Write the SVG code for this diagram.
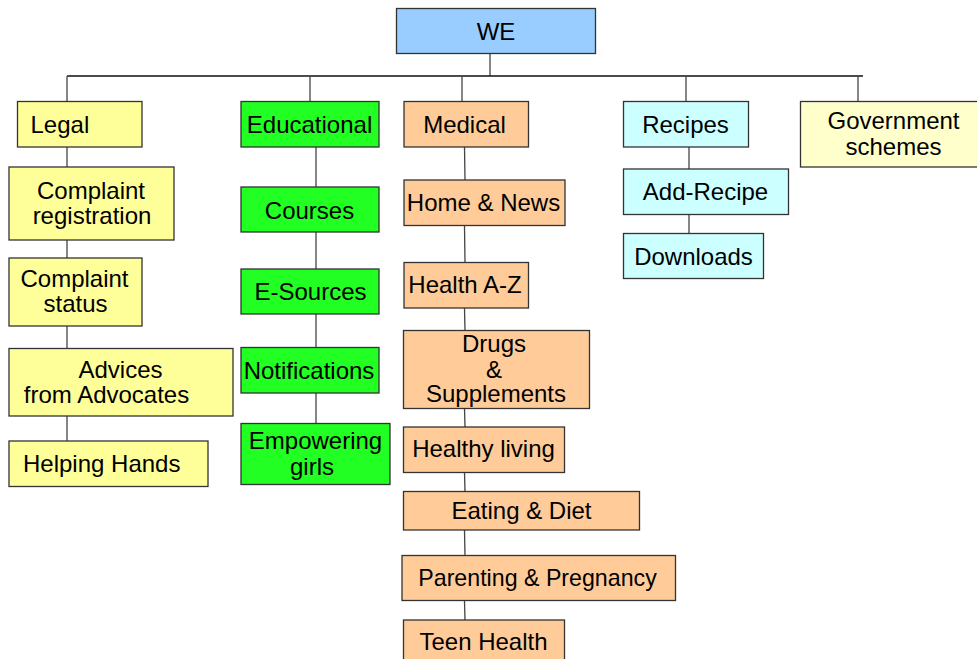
<svg xmlns="http://www.w3.org/2000/svg" width="977" height="659" viewBox="0 0 977 659">
<style>
rect{stroke:#333;stroke-width:1.3}
text{font-family:"Liberation Sans",Arial,sans-serif;font-size:24px;fill:#000;text-anchor:middle}
.l{text-anchor:start}
.c line{stroke:#444;stroke-width:1.3}
.blue{fill:#99CCFF}.yel{fill:#FFFF99}.pale{fill:#FFFFCC}.grn{fill:#22FF22}.org{fill:#FFCC99}.cyan{fill:#CCFFFF}
</style>
<rect width="977" height="659" fill="#fff" style="stroke:none"/>
<g class="c" id="connectors">
<line x1="490" y1="53" x2="490" y2="76"/>
<line x1="67" y1="76" x2="863" y2="76" style="stroke:#111"/>
<line x1="67" y1="76" x2="67" y2="101"/>
<line x1="310" y1="76" x2="310" y2="101"/>
<line x1="462" y1="76" x2="462" y2="101"/>
<line x1="686" y1="76" x2="686" y2="101"/>
<line x1="858" y1="76" x2="858" y2="101"/>
<line x1="67" y1="147" x2="67" y2="167"/>
<line x1="67" y1="240" x2="67" y2="258"/>
<line x1="67" y1="326" x2="67" y2="348"/>
<line x1="67" y1="416" x2="67" y2="441"/>
<line x1="316" y1="147" x2="316" y2="187"/>
<line x1="316" y1="232" x2="316" y2="269"/>
<line x1="316" y1="314" x2="316" y2="347"/>
<line x1="316" y1="393" x2="316" y2="423"/>
<line x1="464.5" y1="147" x2="465" y2="180"/>
<line x1="464.5" y1="226" x2="465" y2="262"/>
<line x1="464.5" y1="308" x2="465" y2="331"/>
<line x1="464.5" y1="408" x2="465" y2="427"/>
<line x1="464.5" y1="472" x2="465" y2="492"/>
<line x1="464.5" y1="530" x2="465" y2="556"/>
<line x1="464.5" y1="601" x2="465" y2="620"/>
<line x1="689" y1="147" x2="689" y2="169"/>
<line x1="689" y1="214" x2="689" y2="233"/>
</g>
<g id="we"><rect class="blue" x="396.5" y="8.5" width="199" height="45"/><text x="496" y="39.5">WE</text></g>
<g id="legal"><rect class="yel" x="17.5" y="101.5" width="124.5" height="45.5"/><text class="l" x="30.5" y="132.5">Legal</text></g>
<g id="educational"><rect class="grn" x="241" y="101.5" width="138" height="45.5"/><text x="309.5" y="132.5">Educational</text></g>
<g id="medical"><rect class="org" x="404" y="101.5" width="124.5" height="45.5"/><text x="464.5" y="132.5">Medical</text></g>
<g id="recipes"><rect class="cyan" x="623.5" y="101.5" width="125" height="45.5"/><text x="685.5" y="132.5">Recipes</text></g>
<g id="gov"><rect class="pale" x="800.5" y="101.5" width="180" height="65.5"/><text x="893.5" y="128.5">Government</text><text x="893.5" y="154.5">schemes</text></g>
<g id="complaint-registration"><rect class="yel" x="9" y="167" width="165" height="73"/><text x="91" y="199">Complaint</text><text x="92" y="224">registration</text></g>
<g id="complaint-status"><rect class="yel" x="9" y="258" width="133" height="68"/><text x="74.5" y="287">Complaint</text><text x="75.5" y="312">status</text></g>
<g id="advices"><rect class="yel" x="9" y="348.5" width="224" height="67.5"/><text x="120.5" y="377.5">Advices</text><text x="106.5" y="403">from Advocates</text></g>
<g id="helping-hands"><rect class="yel" x="9" y="441" width="199" height="45.5"/><text class="l" x="23" y="472">Helping Hands</text></g>
<g id="courses"><rect class="grn" x="241" y="187" width="138" height="45"/><text x="309.5" y="218.5">Courses</text></g>
<g id="esources"><rect class="grn" x="241" y="269" width="138" height="45"/><text x="310.5" y="300">E-Sources</text></g>
<g id="notifications"><rect class="grn" x="241" y="347.5" width="138" height="45.5"/><text x="309" y="378.5">Notifications</text></g>
<g id="empowering"><rect class="grn" x="241" y="423.5" width="149" height="61"/><text x="315.5" y="448.5">Empowering</text><text x="312" y="475">girls</text></g>
<g id="home-news"><rect class="org" x="404" y="180" width="161" height="45.5"/><text x="483.5" y="210.5">Home &amp; News</text></g>
<g id="health-az"><rect class="org" x="404" y="262.5" width="124.5" height="45.5"/><text x="465" y="293">Health A-Z</text></g>
<g id="drugs"><rect class="org" x="403.5" y="330.5" width="186" height="78"/><text x="494" y="352">Drugs</text><text x="494" y="377.5">&amp;</text><text x="496" y="402">Supplements</text></g>
<g id="healthy-living"><rect class="org" x="403.5" y="427" width="161" height="45.5"/><text x="483.5" y="457">Healthy living</text></g>
<g id="eating-diet"><rect class="org" x="403.5" y="491.5" width="236" height="38.5"/><text x="521.5" y="518.5">Eating &amp; Diet</text></g>
<g id="parenting"><rect class="org" x="402" y="555.5" width="273.5" height="45"/><text x="537.5" y="586" style="font-size:23.2px">Parenting &amp; Pregnancy</text></g>
<g id="teen-health"><rect class="org" x="403.5" y="620" width="161" height="50"/><text x="483.5" y="649.5">Teen Health</text></g>
<g id="add-recipe"><rect class="cyan" x="623.5" y="169" width="165" height="45.5"/><text x="705.5" y="200">Add-Recipe</text></g>
<g id="downloads"><rect class="cyan" x="623.5" y="233.5" width="140" height="45"/><text x="693.5" y="265">Downloads</text></g>
</svg>
